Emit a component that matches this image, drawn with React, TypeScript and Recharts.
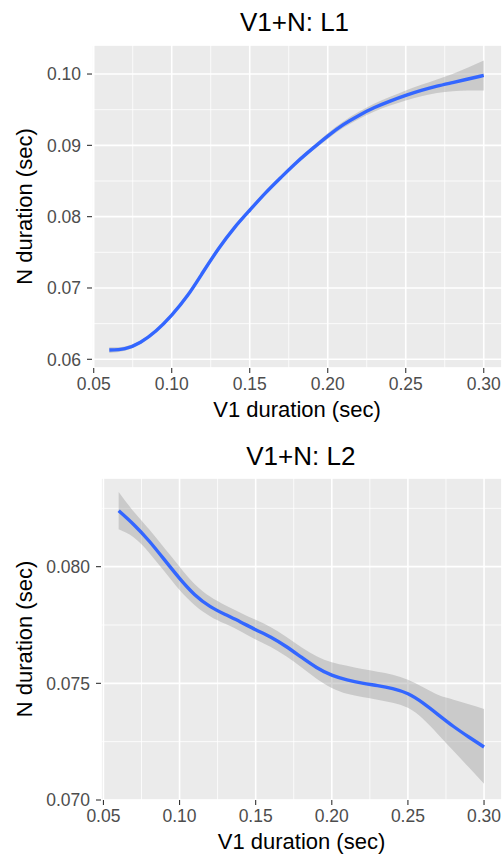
import React from 'react';
import { ComposedChart, Area, Line, XAxis, YAxis, CartesianGrid, Label } from 'recharts';

// V1 duration grid the smooth was read at
const xs = [
  0.06, 0.07, 0.08, 0.09, 0.1, 0.11, 0.12, 0.13, 0.14, 0.15, 0.16, 0.17, 0.18,
  0.19, 0.2, 0.21, 0.22, 0.23, 0.24, 0.25, 0.26, 0.27, 0.28, 0.29, 0.3,
];

// L1 panel: fitted N duration and its confidence band
const l1Fit = [
  0.0613, 0.0615, 0.0624, 0.064, 0.0662, 0.0689, 0.0722, 0.0755, 0.0784, 0.0809, 0.0833, 0.0855, 0.0876,
  0.0895, 0.0913, 0.0929, 0.0942, 0.0953, 0.0962, 0.097, 0.0977, 0.0983, 0.0988, 0.0993, 0.0998,
];
const l1Lower = [
  0.0609, 0.0612, 0.06215, 0.06375, 0.06595, 0.06865, 0.07195, 0.07525, 0.07815, 0.08065, 0.08305, 0.08525, 0.08735,
  0.0892, 0.0909, 0.09245, 0.0937, 0.09475, 0.0956, 0.0963, 0.0969, 0.09735, 0.0976, 0.0977, 0.0977,
];
const l1Upper = [
  0.0617, 0.0618, 0.06265, 0.06425, 0.06645, 0.06915, 0.07245, 0.07575, 0.07865, 0.08115, 0.08355, 0.08575, 0.08785,
  0.0898, 0.0917, 0.09335, 0.0947, 0.09585, 0.0968, 0.0977, 0.0985, 0.09925, 0.1, 0.1009, 0.1019,
];

// L2 panel
const l2Fit = [
  0.0824, 0.0818, 0.0811, 0.0803, 0.0795, 0.0788, 0.0783, 0.07795, 0.07763, 0.0773, 0.07698, 0.07658, 0.07612,
  0.07568, 0.07535, 0.07515, 0.07501, 0.0749, 0.07477, 0.07455, 0.07415, 0.07365, 0.07315, 0.0727, 0.07227,
];
const l2Lower = [
  0.0816, 0.08125, 0.0806, 0.0798, 0.079, 0.07835, 0.07788, 0.07755, 0.07723, 0.07688, 0.07656, 0.07616, 0.07569,
  0.0752, 0.0748, 0.07455, 0.07441, 0.0743, 0.07417, 0.07395, 0.07347, 0.0728, 0.0721, 0.0714, 0.0707,
];
const l2Upper = [
  0.0832, 0.08235, 0.0816, 0.0808, 0.08, 0.07925, 0.07872, 0.07835, 0.07803, 0.07772, 0.0774, 0.077, 0.07655,
  0.07616, 0.0759, 0.07575, 0.07561, 0.0755, 0.07537, 0.07515, 0.07483, 0.0745, 0.0743, 0.0741, 0.0739,
];

const xMajor = [0.05, 0.1, 0.15, 0.2, 0.25, 0.3];
const xMinor = [0.075, 0.125, 0.175, 0.225, 0.275];
const l1YMajor = [0.06, 0.07, 0.08, 0.09, 0.1];
const l1YMinor = [0.065, 0.075, 0.085, 0.095];
const l2YMajor = [0.07, 0.075, 0.08];
const l2YMinor = [0.0725, 0.0775, 0.0825];

const FONT = '"Liberation Sans", Arial, Helvetica, sans-serif';
const tickStyle = { fill: '#4D4D4D', fontSize: 17.5, fontFamily: FONT };

interface PanelProps {
  title: string;
  fit: number[];
  lower: number[];
  upper: number[];
  xDomain: [number, number];
  yDomain: [number, number];
  yMajor: number[];
  yMinor: number[];
  yDigits: number;
  yAxisWidth: number;
  marginTop: number;
  plotHeight: number;
  height: number;
  xTitleDy: number;
  titleTop: number;
  titleCenter: number;
}

const Panel: React.FC<PanelProps> = (p) => {
  const rows = xs.map((x, i) => ({ x, y: p.fit[i], band: [p.lower[i], p.upper[i]] }));
  const xAxisHeight = p.height - p.marginTop - p.plotHeight;

  const xTitle = (props: any) => {
    const vb = props.viewBox || {};
    return (
      <text x={vb.x + vb.width / 2} y={vb.y + p.xTitleDy} textAnchor="middle" fill="#000" fontSize={22} fontFamily={FONT}>
        V1 duration (sec)
      </text>
    );
  };
  const yTitle = (props: any) => {
    const vb = props.viewBox || {};
    const cx = 31.5;
    const cy = vb.y + vb.height / 2;
    return (
      <text x={cx} y={cy} transform={`rotate(-90 ${cx} ${cy})`} textAnchor="middle" fill="#000" fontSize={22} fontFamily={FONT}>
        N duration (sec)
      </text>
    );
  };

  return (
    <div style={{ position: 'relative', width: 502, height: p.height }}>
      <div
        style={{
          position: 'absolute', left: p.titleCenter - 150, width: 300, top: p.titleTop,
          textAlign: 'center', fontFamily: FONT, fontSize: 26, lineHeight: '26px', color: '#000',
        }}
      >
        {p.title}
      </div>
      <ComposedChart width={502} height={p.height} data={rows} margin={{ top: p.marginTop, right: 0, bottom: 0, left: 0 }}>
        <XAxis xAxisId="minor" type="number" dataKey="x" domain={p.xDomain} ticks={xMinor} allowDataOverflow hide />
        <YAxis yAxisId="minor" type="number" domain={p.yDomain} ticks={p.yMinor} allowDataOverflow hide />
        <CartesianGrid xAxisId="minor" yAxisId="minor" fill="#EBEBEB" fillOpacity={1} stroke="#FFFFFF" strokeWidth={0.8} />
        <CartesianGrid stroke="#FFFFFF" strokeWidth={1.6} />
        <XAxis
          type="number"
          dataKey="x"
          domain={p.xDomain}
          ticks={xMajor}
          interval={0}
          allowDataOverflow
          height={xAxisHeight}
          tickFormatter={(v: number) => v.toFixed(2)}
          tick={tickStyle}
          tickLine={{ stroke: '#333333', strokeWidth: 1.1 }}
          axisLine={false}
          tickSize={5}
          tickMargin={5}
        >
          <Label content={xTitle} />
        </XAxis>
        <YAxis
          type="number"
          domain={p.yDomain}
          ticks={p.yMajor}
          interval={0}
          allowDataOverflow
          width={p.yAxisWidth}
          tickFormatter={(v: number) => v.toFixed(p.yDigits)}
          tick={tickStyle}
          tickLine={{ stroke: '#333333', strokeWidth: 1.1 }}
          axisLine={false}
          tickSize={5}
          tickMargin={6}
        >
          <Label content={yTitle} />
        </YAxis>
        <Area type="natural" dataKey="band" fill="#999999" fillOpacity={0.4} stroke="none" isAnimationActive={false} />
        <Line type="natural" dataKey="y" stroke="#3366FF" strokeWidth={3.4} dot={false} activeDot={false} isAnimationActive={false} />
      </ComposedChart>
    </div>
  );
};

export default function App() {
  return (
    <div style={{ position: 'absolute', left: 0, top: 0, width: 502, height: 854, background: '#fff', overflow: 'hidden' }}>
      <Panel
        title="V1+N: L1"
        fit={l1Fit}
        lower={l1Lower}
        upper={l1Upper}
        xDomain={[0.0489, 0.3117]}
        yDomain={[0.05878, 0.10407]}
        yMajor={l1YMajor}
        yMinor={l1YMinor}
        yDigits={2}
        yAxisWidth={92}
        marginTop={45}
        plotHeight={323}
        height={432}
        xTitleDy={48.7}
        titleTop={9}
        titleCenter={294.5}
      />
      <Panel
        title="V1+N: L2"
        fit={l2Fit}
        lower={l2Lower}
        upper={l2Upper}
        xDomain={[0.0484, 0.3118]}
        yDomain={[0.07, 0.0838]}
        yMajor={l2YMajor}
        yMinor={l2YMinor}
        yDigits={3}
        yAxisWidth={101}
        marginTop={46}
        plotHeight={322}
        height={422}
        xTitleDy={49}
        titleTop={11}
        titleCenter={300.8}
      />
    </div>
  );
}
